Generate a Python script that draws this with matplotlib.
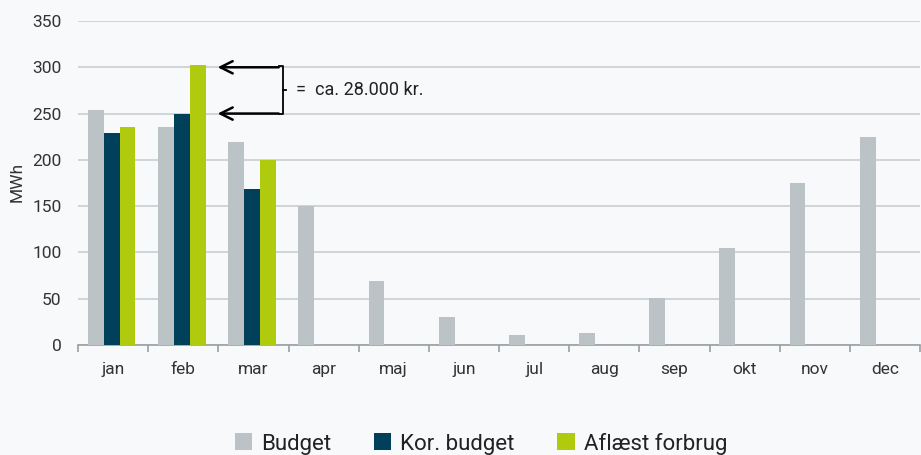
import matplotlib
matplotlib.use("Agg")
import matplotlib.pyplot as plt
import numpy as np

months = ["jan", "feb", "mar", "apr", "maj", "jun", "jul", "aug", "sep", "okt", "nov", "dec"]
budget = [254, 235, 219, 150, 69, 30, 11, 13, 51, 105, 175, 225]
kor_budget = [229, 250, 169]
aflaest = [235, 303, 200]

note_text = "=  ca. 28.000 kr."
note_low, note_high = 250, 300

C_BUDGET = "#bcc3c6"
C_KOR = "#00405a"
C_AFL = "#b0ca0e"
BG = "#f8f9fb"

plt.rcParams["font.family"] = ["Roboto", "DejaVu Sans"]

fig = plt.figure(figsize=(9.21, 4.55), dpi=100, facecolor=BG)
ax = fig.add_axes([78 / 921, 110 / 455, 842 / 921, 324 / 455], facecolor=BG)

x = np.arange(len(months))
w = 0.225
ax.bar(x - 0.245, budget, width=w, color=C_BUDGET, label="Budget", zorder=3)
ax.bar(x[:3] - 0.02, kor_budget, width=w, color=C_KOR, label="Kor. budget", zorder=3)
ax.bar(x[:3] + 0.205, aflaest, width=w, color=C_AFL, label="Aflæst forbrug", zorder=3)

ax.set_xlim(-0.5, len(months) - 0.5)
ax.set_ylim(0, 350)
ax.set_yticks(range(0, 351, 50))
ax.yaxis.grid(True, color="#c9ced2", lw=1.2, zorder=0)
ax.tick_params(axis="y", length=0, pad=12, labelsize=12.5, labelcolor="#333333")

ax.set_xticks(x)
ax.set_xticklabels(months)
ax.set_xticks(np.arange(-0.5, len(months), 1), minor=True)
ax.tick_params(axis="x", which="major", length=0, pad=12, labelsize=12.5, labelcolor="#333333")
ax.tick_params(axis="x", which="minor", length=5, width=1.2, color="#9a9fa3", direction="out")

for s in ["top", "right", "left"]:
    ax.spines[s].set_visible(False)
ax.spines["bottom"].set_color("#9a9fa3")
ax.spines["bottom"].set_linewidth(1.2)

# y label placed in figure coords so it stays inside the canvas
fig.text(17 / 921, 1 - 182 / 455, "MWh", rotation=90, fontsize=12.5, color="#333333",
         ha="center", va="center")

# arrows + bracket
for yv in (note_low, note_high):
    ax.annotate("", xy=(1.49, yv), xytext=(2.36, yv),
                arrowprops=dict(arrowstyle="->", lw=1.8, color="black", mutation_scale=22,
                                shrinkA=0, shrinkB=0), zorder=5)
bx = 2.42
ax.plot([2.37, bx, bx, 2.37], [note_high + 1, note_high + 1, note_low - 1, note_low - 1],
        color="black", lw=1.3, zorder=5)
ax.plot([bx, bx + 0.04], [(note_low + note_high) / 2] * 2, color="black", lw=1.3, zorder=5)
ax.text(2.6, (note_low + note_high) / 2, note_text, fontsize=13, va="center", ha="left",
        color="#222222")

handles, labels = ax.get_legend_handles_labels()
fig.legend(handles, labels, loc="center", bbox_to_anchor=(0.522, 0.025), ncol=3, frameon=False,
           fontsize=16, handlelength=0.8, handleheight=0.8, columnspacing=1.9, handletextpad=0.4,
           labelcolor="#222222")

fig.savefig("out.png", dpi=100, facecolor=BG)
